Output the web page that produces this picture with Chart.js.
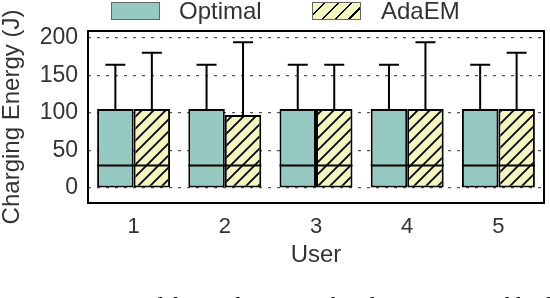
<!DOCTYPE html>
<html>
<head>
<meta charset="utf-8">
<script src="https://cdn.jsdelivr.net/npm/chart.js@4.4.0/dist/chart.umd.min.js"></script>
<style>
  body { margin: 0; background: #fff; }
  #wrap { position: relative; width: 550px; height: 298px; overflow: hidden; font-family: "Liberation Sans", Arial, sans-serif; color: #333; }
  #chart { position: absolute; left: 0; top: 0; }
  .swatch { position: absolute; top: 2px; width: 47px; height: 16px; border: 1.5px solid #666; }
  .label { position: absolute; top: -1px; font-size: 24px; line-height: 24px; white-space: nowrap; }
  #caption { position: absolute; left: 20px; top: 293px; font-family: "Liberation Serif", serif; font-size: 24px; line-height: 24px; color: #000; white-space: nowrap; }
</style>
</head>
<body>
<div id="wrap">
  <canvas id="chart" width="550" height="298"></canvas>
  <div class="swatch" id="swOptimal" style="left:111px;"></div>
  <div class="label" style="left:179px;">Optimal</div>
  <div class="swatch" id="swAda" style="left:312px;"></div>
  <div class="label" style="left:381px;">AdaEM</div>
  <div id="caption">2: Energy used for each user in the charging period by both schemes</div>
</div>
<script>
const users = ["1", "2", "3", "4", "5"];
const yTicks = [0, 50, 100, 150, 200];

const optimalQ1 = [0, 0, 0, 0, 0];
const optimalMedian = [30, 30, 30, 30, 30];
const optimalQ3 = [105, 105, 105, 105, 105];
const optimalMax = [164, 164, 164, 164, 164];

const adaQ1 = [0, 0, 0, 0, 0];
const adaMedian = [30, 30, 30, 30, 30];
const adaQ3 = [105, 97, 105, 105, 105];
const adaMax = [180, 194, 164, 194, 180];

const TEAL = "#96c9c1";
const YELLOW = "#f5f5c0";
const TEXT = "#333";

function hatchPattern() {
  const size = 12;
  const c = document.createElement("canvas");
  c.width = size;
  c.height = size;
  const g = c.getContext("2d");
  g.fillStyle = YELLOW;
  g.fillRect(0, 0, size, size);
  g.strokeStyle = "#000";
  g.lineWidth = 1.8;
  g.beginPath();
  g.moveTo(-2, size + 2);
  g.lineTo(size + 2, -2);
  g.moveTo(-2, 2);
  g.lineTo(2, -2);
  g.moveTo(size - 2, size + 2);
  g.lineTo(size + 2, size - 2);
  g.stroke();
  return g.createPattern(c, "repeat");
}

document.getElementById("swOptimal").style.background = TEAL;
document.getElementById("swAda").style.background =
  `repeating-linear-gradient(-45deg, ${YELLOW} 0 7px, #000 7px 8.5px, ${YELLOW} 8.5px 9.5px)`;

// whiskers + median lines on top of the floating bars, plus the plot frame
const whiskerPlugin = {
  id: "whiskers",
  afterDatasetsDraw(chart) {
    const ctx = chart.ctx;
    const y = chart.scales.y;
    ctx.save();
    ctx.strokeStyle = "#000";
    ctx.lineWidth = 2;
    chart.data.datasets.forEach((ds, di) => {
      const meta = chart.getDatasetMeta(di);
      meta.data.forEach((bar, i) => {
        const { x, width } = bar.getProps(["x", "width"], true);
        const yTop = y.getPixelForValue(ds.q3[i]);
        const yMax = y.getPixelForValue(ds.max[i]);
        const yMed = y.getPixelForValue(ds.median[i]);
        ctx.beginPath();
        ctx.moveTo(x, yTop);
        ctx.lineTo(x, yMax);
        ctx.moveTo(x - 10, yMax);
        ctx.lineTo(x + 10, yMax);
        ctx.moveTo(x - width / 2, yMed);
        ctx.lineTo(x + width / 2, yMed);
        ctx.stroke();
      });
    });
    ctx.restore();
  },
  afterDraw(chart) {
    const { left, top, right, bottom } = chart.chartArea;
    const ctx = chart.ctx;
    ctx.save();
    ctx.strokeStyle = "#000";
    ctx.lineWidth = 2;
    ctx.strokeRect(left, top, right - left, bottom - top);
    ctx.restore();
  },
};

new Chart(document.getElementById("chart"), {
  type: "bar",
  data: {
    labels: users,
    datasets: [
      {
        label: "Optimal",
        data: optimalQ1.map((v, i) => [v, optimalQ3[i]]),
        q3: optimalQ3,
        median: optimalMedian,
        max: optimalMax,
        backgroundColor: TEAL,
        borderColor: "#000",
        borderWidth: 2,
        borderSkipped: false,
      },
      {
        label: "AdaEM",
        data: adaQ1.map((v, i) => [v, adaQ3[i]]),
        q3: adaQ3,
        median: adaMedian,
        max: adaMax,
        backgroundColor: hatchPattern(),
        borderColor: "#000",
        borderWidth: 2,
        borderSkipped: false,
      },
    ],
  },
  options: {
    responsive: false,
    animation: false,
    devicePixelRatio: 1,
    categoryPercentage: 0.8,
    barPercentage: 1.0,
    layout: { padding: { top: 31, right: 6, bottom: 28, left: 0 } },
    plugins: {
      legend: { display: false },
      tooltip: { enabled: false },
    },
    scales: {
      x: {
        grid: { display: false, drawTicks: false },
        border: { display: false },
        ticks: { color: TEXT, font: { family: "Liberation Sans", size: 22 }, padding: 11 },
        title: {
          display: true,
          text: "User",
          color: TEXT,
          font: { family: "Liberation Sans", size: 24 },
          padding: 0,
        },
        afterFit(axis) {
          axis.height = 67;
        },
      },
      y: {
        min: -20,
        max: 209,
        grid: { color: "#555", lineWidth: 1.2, drawTicks: false },
        border: { display: false, dash: [3, 6] },
        ticks: { color: TEXT, font: { family: "Liberation Sans", size: 23 }, padding: 10 },
        afterBuildTicks(axis) {
          axis.ticks = yTicks.map((v) => ({ value: v }));
        },
        title: {
          display: true,
          text: "Charging Energy (J)",
          color: TEXT,
          font: { family: "Liberation Sans", size: 24, lineHeight: 1 },
          padding: 0,
        },
        afterFit(axis) {
          axis.width = 88;
        },
      },
    },
  },
  plugins: [whiskerPlugin],
});
</script>
</body>
</html>
